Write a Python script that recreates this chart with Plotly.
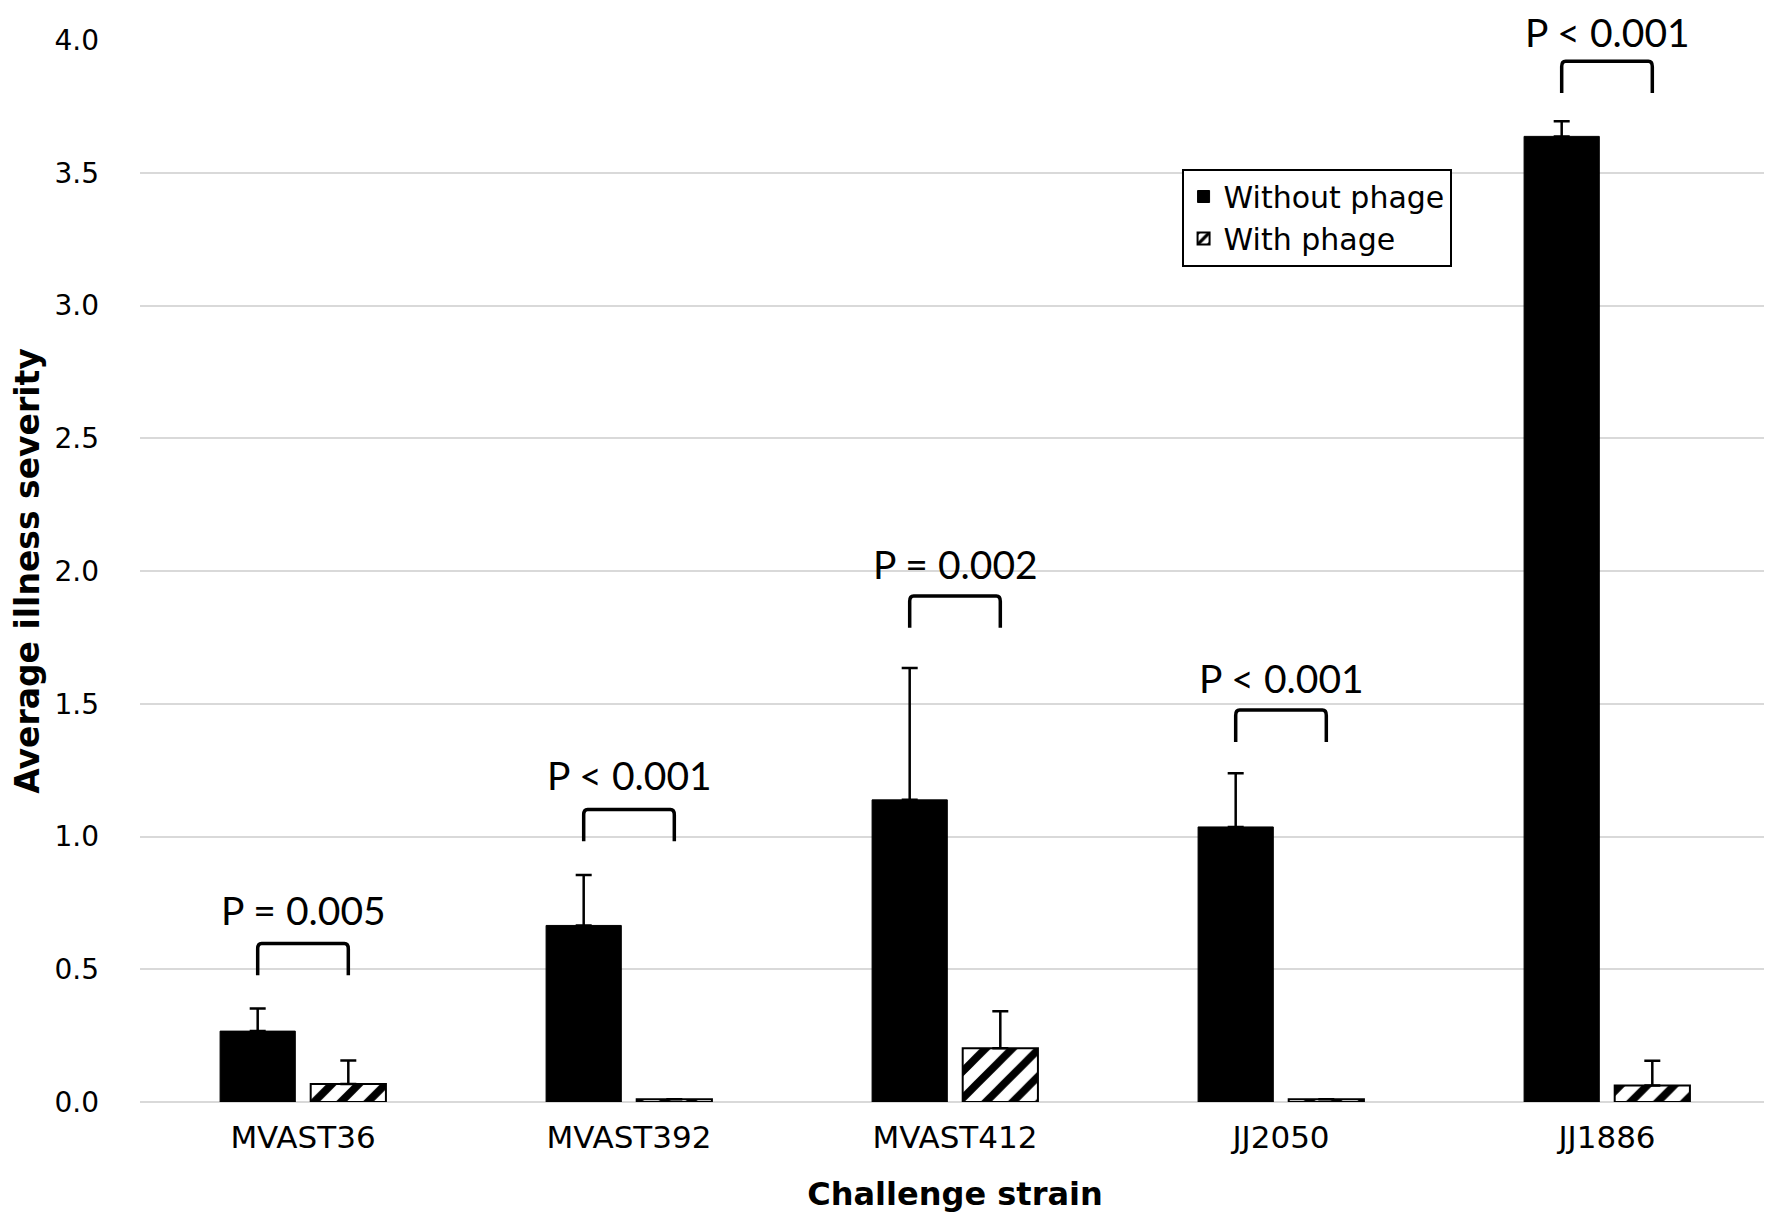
import plotly.graph_objects as go

# Dados
strains = ['MVAST36', 'MVAST392', 'MVAST412', 'JJ2050', 'JJ1886']
without_phage = [0.267, 0.665, 1.138, 1.036, 3.637]
without_phage_err = [0.085, 0.19, 0.497, 0.202, 0.057]
with_phage = [0.068, 0.01, 0.202, 0.01, 0.062]
with_phage_err = [0.088, 0.0, 0.14, 0.0, 0.093]

# Anotações de significância
p_labels = ['P = 0.005', 'P < 0.001', 'P = 0.002', 'P < 0.001', 'P < 0.001']
p_text_y = [0.725, 1.23, 2.025, 1.598, 4.03]
bracket_top = [0.597, 1.102, 1.906, 1.476, 3.92]
bracket_leg = 0.12

Y_MAX = 4.0
BARGAP = 0.444
GROUPGAP = 0.17
offset = (1 - BARGAP) / 4  # centro de cada barra em relação à categoria

x = list(range(len(strains)))

fig = go.Figure()

fig.add_trace(go.Bar(
    x=x, y=without_phage, name='Without phage',
    marker=dict(color='black', line=dict(color='black', width=1)),
    error_y=dict(type='data', array=without_phage_err, arrayminus=[0] * 5,
                 symmetric=False, color='black', thickness=2.5, width=8),
))

fig.add_trace(go.Bar(
    x=x, y=with_phage, name='With phage',
    marker=dict(color='white', line=dict(color='black', width=2),
                pattern=dict(shape='/', fgcolor='black', bgcolor='white',
                             fgopacity=1, size=19, solidity=0.4)),
    error_y=dict(type='data', array=with_phage_err, arrayminus=[0] * 5,
                 symmetric=False, color='black', thickness=2.5, width=8),
))

# Colchetes e textos de P
for i, (lab, ty, top) in enumerate(zip(p_labels, p_text_y, bracket_top)):
    x0, x1 = i - offset, i + offset
    r_x, r_y = 0.012, 0.02
    path = (f'M {x0},{top - bracket_leg} L {x0},{top - r_y} '
            f'Q {x0},{top} {x0 + r_x},{top} L {x1 - r_x},{top} '
            f'Q {x1},{top} {x1},{top - r_y} L {x1},{top - bracket_leg}')
    fig.add_shape(type='path', path=path, xref='x', yref='y',
                  line=dict(color='black', width=3.5))
    # yref em 'paper' para que o texto acima do eixo não seja ocultado
    fig.add_annotation(x=i, y=ty / Y_MAX, xref='x', yref='paper', text=lab,
                       showarrow=False, yanchor='middle',
                       font=dict(family='Lato', size=39, color='black'))

fig.update_layout(
    width=1772, height=1231,
    plot_bgcolor='white', paper_bgcolor='white',
    barmode='group', bargap=BARGAP, bargroupgap=GROUPGAP,
    margin=dict(l=132, r=10, t=32, b=137),
    font=dict(family='DejaVu Sans', color='black'),
    showlegend=True,
    legend=dict(x=0.639, y=0.879, xanchor='left', yanchor='top',
                bordercolor='black', borderwidth=2, bgcolor='white',
                font=dict(family='DejaVu Sans', size=30, color='black')),
    xaxis=dict(
        tickvals=x, ticktext=strains, range=[-0.5, 4.5],
        showgrid=False, zeroline=False, showline=False, ticks='',
        tickfont=dict(size=31, color='black'),
        ticklabelstandoff=14,
        title=dict(text='<b>Challenge strain</b>', standoff=28,
                   font=dict(size=32, color='black')),
    ),
    yaxis=dict(
        range=[0, Y_MAX], dtick=0.5, tickformat='.1f',
        showgrid=True, gridcolor='#d9d9d9', gridwidth=2,
        zeroline=True, zerolinecolor='#d9d9d9', zerolinewidth=2,
        showline=False, ticks='',
        tickfont=dict(size=28, color='black'),
        ticklabelstandoff=40,
        title=dict(text='<b>Average illness severity</b>', standoff=12,
                   font=dict(size=33, color='black')),
    ),
)

fig.write_html('out.html')
